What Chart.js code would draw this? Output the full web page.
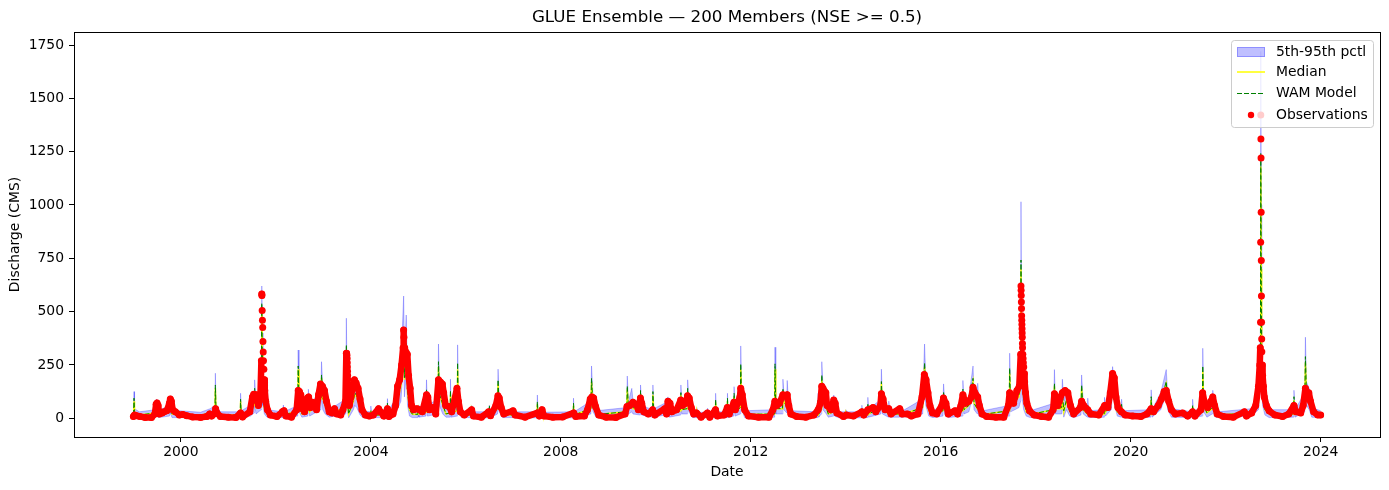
<!DOCTYPE html>
<html>
<head>
<meta charset="utf-8">
<title>GLUE Ensemble</title>
<script src="https://cdn.jsdelivr.net/npm/chart.js@4.4.1/dist/chart.umd.min.js"></script>
<style>
  html, body { margin: 0; padding: 0; background: #fff; }
  canvas { display: block; }
</style>
</head>
<body>
<canvas id="glueChart" width="1389" height="490"></canvas>
<script>
/* ── Axis ticks ── */
const xTicks = [2000, 2004, 2008, 2012, 2016, 2020, 2024];
const yTicks = [0, 250, 500, 750, 1000, 1250, 1500, 1750];

/* ── Ensemble (simulated) series ── */
const simDates = [
  "1999-01-01","1999-01-04","1999-01-06","1999-01-10","1999-02-15","1999-06-20","1999-06-28","1999-07-10","1999-10-05","1999-10-12","1999-10-25","1999-12-20",
  "2000-06-01","2000-08-15","2000-09-20","2000-09-23","2000-09-28","2000-11-01",
  "2001-04-01","2001-04-05","2001-04-10","2001-06-20","2001-07-18","2001-07-22","2001-08-02","2001-09-10","2001-09-15","2001-09-19","2001-09-24","2001-10-05","2001-10-25",
  "2002-02-25","2002-02-28","2002-03-05","2002-06-18","2002-06-22","2002-06-28","2002-07-20","2002-09-04","2002-09-08","2002-09-18","2002-10-15","2002-12-14","2002-12-18","2002-12-28",
  "2003-01-15","2003-02-15","2003-06-23","2003-06-27","2003-07-03","2003-07-15","2003-08-20","2003-08-30","2003-09-15","2003-10-10","2003-11-01","2003-12-28",
  "2004-01-01","2004-01-06","2004-05-05","2004-05-08","2004-05-13","2004-07-15","2004-08-20","2004-09-10","2004-09-16","2004-09-30","2004-10-10","2004-10-25","2004-11-15","2004-12-28",
  "2005-01-01","2005-01-06","2005-03-01","2005-03-05","2005-03-12","2005-06-01","2005-06-05","2005-06-12","2005-07-08","2005-08-01","2005-09-02","2005-09-05","2005-09-10","2005-10-26","2005-10-30","2005-11-05","2005-12-01",
  "2006-02-12","2006-02-15","2006-02-22","2006-06-28","2006-07-01","2006-07-06","2006-09-02","2006-09-06","2006-09-14","2006-10-10","2006-12-28",
  "2007-01-01","2007-01-08","2007-07-02","2007-07-05","2007-07-10","2007-08-07","2007-08-10","2007-08-16",
  "2008-04-05","2008-04-08","2008-04-13","2008-08-20","2008-08-25","2008-09-05","2008-10-01",
  "2009-05-23","2009-05-27","2009-06-05","2009-07-01","2009-07-10","2009-09-03","2009-09-06","2009-09-14","2009-12-07","2009-12-10","2009-12-17",
  "2010-03-10","2010-04-05","2010-04-15","2010-07-10","2010-07-13","2010-07-20","2010-08-30","2010-09-03","2010-09-12","2010-10-10","2010-11-09","2010-11-12","2010-11-18",
  "2011-02-01","2011-02-03","2011-02-08","2011-04-03","2011-04-06","2011-04-11","2011-07-03","2011-07-06","2011-07-11","2011-08-23","2011-08-26","2011-09-03","2011-10-13","2011-10-16","2011-10-23","2011-11-15",
  "2012-07-03","2012-07-06","2012-07-12","2012-09-01","2012-09-05","2012-09-12","2012-10-04","2012-10-08","2012-10-18","2012-11-10",
  "2013-05-31","2013-06-03","2013-06-08","2013-06-28","2013-07-01","2013-07-10","2013-08-05","2013-08-20","2013-09-28","2013-10-01","2013-10-08","2013-11-10","2013-12-30",
  "2014-01-02","2014-01-08","2014-05-02","2014-05-05","2014-05-10","2014-06-17","2014-06-20","2014-06-26","2014-09-28","2014-10-02","2014-10-10","2014-11-25","2014-11-28","2014-12-05",
  "2015-02-17","2015-02-20","2015-03-01","2015-08-15","2015-08-30","2015-09-08","2015-10-01","2015-11-01",
  "2016-01-18","2016-01-23","2016-02-02","2016-03-01","2016-06-16","2016-06-20","2016-06-28","2016-08-05","2016-09-06","2016-09-14","2016-10-09","2016-10-12","2016-10-20","2016-11-20",
  "2017-06-10","2017-06-15","2017-06-22","2017-07-25","2017-08-25","2017-09-07","2017-09-10","2017-09-13","2017-09-18","2017-10-01","2017-10-20","2017-11-20",
  "2018-05-20","2018-05-25","2018-06-01","2018-07-20","2018-07-25","2018-08-05","2018-08-25","2018-09-20","2018-10-20","2018-12-15","2018-12-20",
  "2019-01-01","2019-02-02","2019-02-05","2019-02-12","2019-06-11","2019-06-14","2019-06-22","2019-08-05","2019-08-15","2019-08-25","2019-09-20","2019-10-20","2019-10-23","2019-10-30",
  "2020-06-04","2020-06-07","2020-06-14","2020-08-20","2020-10-01","2020-10-12","2020-11-10",
  "2021-04-19","2021-04-22","2021-04-30","2021-07-05","2021-07-09","2021-07-16","2021-08-10","2021-09-20","2021-09-24","2021-10-05","2021-10-25","2021-10-28","2021-11-05",
  "2022-07-20","2022-09-10","2022-09-25","2022-09-28","2022-10-01","2022-10-05","2022-10-12","2022-10-30","2022-12-01",
  "2023-06-07","2023-06-10","2023-06-18","2023-09-01","2023-09-06","2023-09-14","2023-10-05","2023-10-25",
  "2024-01-01"
];
const simP5 = [
  2,10,20,5,2,5,20,3,10,25,3,3,
  2,5,8,40,8,2,
  2,25,4,10,25,60,20,40,380,150,60,20,5,
  3,15,3,10,120,30,5,10,50,10,20,40,110,40,
  20,5,20,220,40,2,40,60,50,15,3,3,
  15,3,3,30,3,30,80,280,100,200,60,10,3,3,
  15,5,10,80,10,20,150,60,20,5,5,60,5,10,150,20,3,
  3,15,2,2,15,2,20,100,30,3,3,
  10,2,2,40,3,3,10,2,
  2,30,2,20,90,30,3,
  10,80,20,30,20,15,60,15,5,60,5,
  15,30,5,15,60,20,20,80,30,3,3,5,2,
  2,8,2,2,40,3,3,45,3,10,55,10,20,150,40,3,
  5,120,20,20,80,40,25,70,15,3,
  3,30,5,20,100,40,20,5,10,40,10,2,3,
  10,2,2,15,3,3,20,5,20,80,20,5,20,5,
  5,10,3,20,150,60,10,3,
  10,60,15,3,10,70,20,30,110,40,20,60,10,3,
  10,100,30,40,50,80,450,200,100,40,10,3,
  15,70,20,20,60,5,40,10,3,15,80,
  20,5,20,3,5,40,10,40,150,80,10,5,20,3,
  5,50,5,40,110,40,5,
  3,20,3,10,140,30,5,20,60,10,3,15,3,
  10,40,150,1100,500,150,60,15,3,
  5,50,5,30,180,60,40,5,
  3
];
const simP95 = [
  30,60,125,45,30,40,90,35,60,100,40,35,
  28,45,60,211,60,30,
  30,117,35,60,100,180,80,120,620,400,180,80,40,
  30,62,30,60,320,120,40,60,136,50,80,140,265,150,
  110,40,90,469,150,40,140,180,160,80,35,30,
  57,30,30,92,30,100,250,573,300,484,200,80,40,35,
  61,35,60,180,60,90,348,180,120,40,45,183,50,60,344,90,35,
  30,60,30,30,60,30,80,230,100,35,30,
  45,30,30,109,30,30,50,28,
  30,94,30,80,245,110,35,
  50,198,80,140,80,60,156,60,40,156,45,
  70,100,40,60,156,70,80,180,100,35,30,50,28,
  28,47,28,28,117,30,30,117,30,50,148,50,90,339,120,35,
  40,333,80,80,183,120,90,177,70,35,
  30,117,40,80,265,150,100,40,50,109,50,30,30,
  40,30,30,61,30,30,98,40,90,230,90,40,80,35,
  35,60,30,90,348,190,70,35,
  60,161,70,30,60,177,80,100,245,120,80,164,50,35,
  60,305,110,120,160,250,1015,500,300,150,60,35,
  70,228,90,90,183,80,140,60,35,70,203,
  80,40,94,35,40,98,50,130,242,180,60,40,89,35,
  40,133,40,120,228,120,45,
  30,89,30,60,328,100,45,80,131,50,30,60,30,
  45,120,400,1720,1000,400,200,80,40,
  40,131,40,120,380,170,140,50,
  35
];
const simMedian = [
  15,40,80,25,15,25,50,18,35,60,20,18,
  14,25,35,140,35,15,
  15,80,18,35,60,120,50,80,520,300,120,45,20,
  15,40,15,35,230,70,20,35,100,30,50,90,190,90,
  60,20,50,320,80,20,80,110,100,40,18,15,
  35,15,15,60,15,60,150,400,180,330,120,40,20,18,
  40,20,30,120,30,50,240,110,60,20,25,110,25,35,230,45,18,
  15,35,15,15,45,15,45,160,60,18,15,
  30,15,15,65,15,15,30,14,
  15,60,15,45,170,60,18,
  30,135,45,80,45,35,115,35,20,110,25,
  40,60,20,35,110,40,45,125,60,18,15,30,14,
  14,30,14,14,75,15,15,80,15,30,100,30,50,230,70,18,
  20,230,45,45,125,80,50,120,40,18,
  15,70,20,45,180,90,50,20,30,75,30,15,15,
  25,15,15,35,15,15,55,20,50,160,45,20,50,20,
  20,35,15,50,240,120,35,18,
  35,110,40,15,35,120,40,60,170,70,45,100,30,18,
  35,210,60,80,100,150,700,380,200,90,30,18,
  40,150,45,45,100,30,80,30,18,40,140,
  40,20,55,18,20,65,30,80,200,120,30,20,55,18,
  20,85,20,70,160,70,25,
  15,55,15,35,220,60,25,45,90,30,15,35,15,
  25,70,250,1180,700,300,130,40,20,
  20,85,20,70,260,110,85,25,
  18
];
const simWam = [
  15,45,94,25,15,25,55,18,35,65,20,18,
  14,25,35,156,35,15,
  15,89,18,35,65,140,55,85,540,320,130,50,20,
  15,45,15,35,245,75,22,35,110,30,55,95,203,95,
  60,20,50,344,90,20,85,120,105,40,18,15,
  35,15,15,70,15,60,170,427,190,350,130,40,20,18,
  45,20,30,133,30,50,265,115,65,20,25,130,25,35,260,50,18,
  15,40,15,15,60,15,45,180,60,18,15,
  35,15,15,77,15,15,30,14,
  15,70,15,45,187,65,18,
  30,151,50,90,50,35,130,35,20,125,25,
  45,65,20,35,120,40,45,140,60,18,15,35,14,
  14,30,14,14,89,15,15,94,15,30,117,30,50,255,75,18,
  20,255,45,45,140,80,55,130,40,18,
  15,85,20,45,203,95,50,20,30,85,30,15,15,
  25,15,15,45,15,15,65,20,50,172,50,20,55,20,
  20,40,15,50,260,125,35,18,
  35,125,40,15,35,136,40,60,187,70,45,110,30,18,
  35,235,60,85,110,160,742,400,210,95,30,18,
  40,164,45,50,120,35,85,30,18,45,156,
  40,20,60,18,20,73,30,85,211,125,30,20,65,18,
  20,101,20,75,172,75,25,
  15,60,15,35,245,60,25,50,100,30,15,40,15,
  25,75,260,1244,720,310,135,40,20,
  20,101,20,75,289,115,90,25,
  18
];

/* ── Observed discharge ── */
const obsDates = [
  "1999-01-01","1999-01-10","1999-01-25","1999-02-20","1999-04-01","1999-05-20","1999-06-15","1999-06-25","1999-07-02","1999-07-10","1999-07-20","1999-08-10","1999-08-25","1999-09-15","1999-10-05","1999-10-12","1999-10-20","1999-10-30","1999-11-20","1999-12-20",
  "2000-01-15","2000-02-15","2000-04-01","2000-06-01","2000-07-20","2000-08-10","2000-08-25","2000-09-20","2000-09-25","2000-10-05","2000-11-01",
  "2001-01-01","2001-03-01","2001-04-05","2001-04-20","2001-06-15","2001-07-05","2001-07-15","2001-07-25","2001-08-05","2001-08-20","2001-09-05","2001-09-12","2001-09-15","2001-09-16","2001-09-18","2001-09-20","2001-09-22","2001-09-24","2001-09-26","2001-09-28","2001-10-01","2001-10-04","2001-10-08","2001-10-15","2001-10-28","2001-11-20",
  "2002-01-10","2002-02-20","2002-03-05","2002-03-20","2002-05-01","2002-06-10","2002-06-22","2002-07-01","2002-07-12","2002-07-25","2002-08-10","2002-09-01","2002-09-10","2002-09-25","2002-10-10","2002-10-25","2002-11-10","2002-11-25","2002-12-10","2002-12-25",
  "2003-01-10","2003-01-25","2003-02-15","2003-03-10","2003-03-28","2003-04-15","2003-05-15","2003-06-01","2003-06-20","2003-06-27","2003-07-01","2003-07-03","2003-07-04","2003-07-05","2003-07-06","2003-07-07","2003-07-08","2003-07-09","2003-07-10","2003-07-12","2003-07-20","2003-08-01","2003-08-15","2003-08-28","2003-09-10","2003-09-25","2003-10-10","2003-10-25","2003-11-20","2003-12-20",
  "2004-01-20","2004-03-01","2004-03-15","2004-04-10","2004-05-08","2004-05-20","2004-06-20","2004-07-10","2004-07-25","2004-08-10","2004-08-25","2004-09-06","2004-09-10","2004-09-12","2004-09-14","2004-09-20","2004-09-28","2004-10-08","2004-10-18","2004-10-30","2004-11-10","2004-11-25","2004-12-20",
  "2005-01-10","2005-02-01","2005-03-05","2005-03-15","2005-03-28","2005-04-25","2005-05-15","2005-06-05","2005-06-20","2005-07-05","2005-07-15","2005-07-30","2005-08-25","2005-09-15","2005-10-25","2005-11-05","2005-11-20","2005-12-20",
  "2006-02-15","2006-03-01","2006-05-01","2006-06-25","2006-07-10","2006-08-20","2006-09-05","2006-09-15","2006-09-30","2006-10-20","2006-12-30",
  "2007-01-15","2007-04-01","2007-07-05","2007-07-20","2007-08-10","2007-08-25","2007-11-01",
  "2008-01-15","2008-04-10","2008-04-25","2008-07-01","2008-07-25","2008-08-15","2008-08-28","2008-09-10","2008-09-25","2008-10-20","2008-12-15",
  "2009-03-01","2009-05-10","2009-05-25","2009-06-15","2009-07-10","2009-08-01","2009-08-20","2009-09-05","2009-09-15","2009-10-01","2009-11-05","2009-12-08","2009-12-25",
  "2010-03-10","2010-03-25","2010-04-05","2010-04-20","2010-05-05","2010-06-10","2010-07-12","2010-07-25","2010-08-20","2010-09-02","2010-09-15","2010-10-01","2010-10-20","2010-11-10","2010-12-15",
  "2011-02-02","2011-02-20","2011-04-05","2011-04-20","2011-06-10","2011-07-05","2011-07-20","2011-08-25","2011-09-05","2011-10-10","2011-10-16","2011-10-28","2011-11-15","2011-12-15",
  "2012-03-01","2012-05-20","2012-06-20","2012-07-05","2012-07-20","2012-08-10","2012-09-05","2012-09-20","2012-10-08","2012-10-20","2012-11-05","2012-12-20",
  "2013-03-01","2013-05-01","2013-06-03","2013-06-20","2013-07-01","2013-07-10","2013-08-01","2013-08-10","2013-09-10","2013-10-01","2013-10-12","2013-10-25","2013-12-15",
  "2014-01-05","2014-03-01","2014-05-05","2014-05-20","2014-06-20","2014-07-30","2014-08-20","2014-09-25","2014-10-02","2014-10-15","2014-10-30","2014-11-28","2014-12-15",
  "2015-02-20","2015-03-10","2015-04-20","2015-05-20","2015-07-10","2015-08-10","2015-08-28","2015-09-10","2015-09-25","2015-10-10","2015-10-30","2015-12-01",
  "2016-01-10","2016-01-22","2016-02-10","2016-02-28","2016-04-20","2016-05-10","2016-06-05","2016-06-20","2016-07-10","2016-08-05","2016-08-25","2016-09-06","2016-09-20","2016-10-12","2016-10-25","2016-11-15","2016-12-20",
  "2017-03-01","2017-05-01","2017-06-05","2017-06-15","2017-06-28","2017-07-15","2017-07-25","2017-08-10","2017-08-28","2017-09-08","2017-09-10","2017-09-11","2017-09-12","2017-09-13","2017-09-14","2017-09-15","2017-09-16","2017-09-17","2017-09-18","2017-09-19","2017-09-20","2017-09-21","2017-09-22","2017-09-24","2017-09-26","2017-09-28","2017-10-01","2017-10-04","2017-10-08","2017-10-15","2017-10-25","2017-11-15","2017-12-20",
  "2018-02-15","2018-04-10","2018-05-15","2018-05-25","2018-06-10","2018-06-20","2018-07-01","2018-07-25","2018-08-15","2018-09-05","2018-09-25","2018-10-20","2018-12-10","2018-12-20",
  "2019-01-05","2019-02-05","2019-03-01","2019-05-01","2019-06-15","2019-07-10","2019-07-28","2019-08-15","2019-08-28","2019-09-10","2019-09-25","2019-10-22","2019-11-20",
  "2020-01-15","2020-03-20","2020-05-05","2020-06-07","2020-06-25","2020-08-01","2020-08-25","2020-09-15","2020-10-01","2020-10-20","2020-11-10","2020-12-10",
  "2021-02-05","2021-03-15","2021-04-22","2021-05-10","2021-06-25","2021-07-08","2021-07-20","2021-08-15","2021-09-10","2021-09-24","2021-10-08","2021-10-28","2021-12-15",
  "2022-03-01","2022-05-25","2022-06-10","2022-07-20","2022-08-20","2022-09-10","2022-09-20","2022-09-24","2022-09-26","2022-09-27","2022-09-28","2022-09-29","2022-09-30","2022-10-01","2022-10-02","2022-10-03","2022-10-04","2022-10-05","2022-10-06","2022-10-08","2022-10-12","2022-10-18","2022-10-25","2022-11-10","2022-12-01",
  "2023-01-15","2023-03-15","2023-05-01","2023-06-10","2023-06-25","2023-08-01","2023-08-20","2023-09-06","2023-09-20","2023-10-02","2023-10-15","2023-11-08","2023-12-10",
  "2024-01-01"
];
const obsFlow = [
  8,15,12,8,4,3,20,65,72,60,20,25,30,35,70,90,80,40,30,15,
  18,12,6,4,8,20,10,22,45,25,8,
  5,4,25,6,30,100,112,95,110,60,110,270,583,575,505,460,425,360,310,270,230,180,130,80,40,15,
  8,30,35,10,5,40,130,125,110,45,30,95,100,50,75,70,40,110,160,150,
  130,80,30,25,45,20,15,40,80,305,295,280,260,240,220,200,180,160,140,110,60,100,150,180,165,140,90,40,15,10,
  15,45,30,10,45,8,20,60,150,180,250,330,414,380,330,280,310,300,200,140,60,40,45,
  40,30,110,100,40,50,20,180,170,160,120,60,55,30,140,80,30,15,
  40,10,5,30,12,60,105,95,50,20,35,
  15,5,25,10,40,10,5,
  6,25,8,10,40,90,100,95,55,15,5,
  4,20,55,60,75,65,40,95,70,30,20,40,15,
  45,20,80,70,30,40,85,60,70,105,95,50,20,25,5,
  25,5,40,10,15,50,20,75,40,100,140,110,40,10,
  5,5,40,80,60,70,110,105,110,60,20,8,
  5,15,40,70,150,140,120,60,40,85,70,25,8,
  15,10,30,15,40,50,30,60,115,90,40,45,20,
  45,20,20,10,20,100,205,180,120,60,25,20,
  60,95,70,20,35,20,60,110,70,80,100,145,120,100,60,20,8,
  5,5,60,120,100,70,100,130,150,300,620,600,575,545,515,480,460,440,420,400,380,350,330,300,280,260,240,210,170,120,70,35,15,
  8,5,40,115,100,60,80,120,130,120,60,20,50,80,
  60,40,20,15,60,50,120,210,190,100,50,30,15,
  10,8,20,45,30,60,90,125,130,80,40,20,
  25,10,30,10,40,120,80,50,80,100,60,20,8,
  5,30,10,25,60,150,250,330,450,825,1422,1309,1220,966,740,573,450,372,312,250,200,150,100,60,35,
  15,8,20,60,30,25,60,140,120,120,80,30,15,
  15
];

/* ── Helpers ── */
function toYear(d) {
  const [y, m, day] = d.split("-").map(Number);
  const start = Date.UTC(y, 0, 1);
  const end = Date.UTC(y + 1, 0, 1);
  return y + (Date.UTC(y, m - 1, day) - start) / (end - start);
}
const pts = (dates, vals) => dates.map((d, i) => ({ x: toYear(d), y: vals[i] }));

const BAND = "rgba(0,0,255,0.25)";
const RED = "#ff0000";
const FONT = "'DejaVu Sans', sans-serif";

/* ── Frame, title and legend (matplotlib-like) ── */
const glueDecor = {
  id: "glueDecor",
  afterDatasetsDraw(chart) {
    const { ctx, chartArea: a } = chart;
    ctx.save();

    ctx.strokeStyle = "#000";
    ctx.lineWidth = 1;
    ctx.strokeRect(Math.round(a.left) + 0.5, Math.round(a.top) + 0.5,
      Math.round(a.right - a.left), Math.round(a.bottom - a.top));

    ctx.fillStyle = "#000";
    ctx.font = `16.7px ${FONT}`;
    ctx.textAlign = "center";
    ctx.textBaseline = "middle";
    ctx.fillText("GLUE Ensemble — 200 Members (NSE >= 0.5)", (a.left + a.right) / 2, 18);

    // legend box
    const bx = a.right - 149, by = a.top + 8, bw = 142, bh = 87;
    ctx.beginPath();
    ctx.roundRect(bx + 0.5, by + 0.5, bw, bh, 3);
    ctx.fillStyle = "rgba(255,255,255,0.8)";
    ctx.fill();
    ctx.strokeStyle = "#cccccc";
    ctx.stroke();

    const hx = bx + 6, hw = 28;
    const rows = [by + 12, by + 32, by + 53, by + 75];

    ctx.fillStyle = BAND;
    ctx.strokeStyle = BAND;
    ctx.fillRect(hx, rows[0] - 5, hw, 10);
    ctx.strokeRect(hx + 0.5, rows[0] - 4.5, hw - 1, 9);

    ctx.lineWidth = 1.5;
    ctx.strokeStyle = "#ffff00";
    ctx.beginPath(); ctx.moveTo(hx, rows[1]); ctx.lineTo(hx + hw, rows[1]); ctx.stroke();

    ctx.lineWidth = 1;
    ctx.strokeStyle = "#008000";
    ctx.setLineDash([5, 2]);
    ctx.beginPath(); ctx.moveTo(hx, rows[2] + 0.5); ctx.lineTo(hx + hw, rows[2] + 0.5); ctx.stroke();
    ctx.setLineDash([]);

    ctx.fillStyle = RED;
    ctx.beginPath(); ctx.arc(hx + 14, rows[3], 3.2, 0, Math.PI * 2); ctx.fill();

    ctx.fillStyle = "#000";
    ctx.font = `13.9px ${FONT}`;
    ctx.textAlign = "left";
    ["5th-95th pctl", "Median", "WAM Model", "Observations"].forEach((t, i) => {
      ctx.fillText(t, bx + 45, rows[i]);
    });
    ctx.restore();
  }
};

Chart.defaults.font.family = FONT;
Chart.defaults.font.size = 13.9;
Chart.defaults.color = "#000";

new Chart(document.getElementById("glueChart"), {
  type: "line",
  data: {
    datasets: [
      {
        label: "Observations",
        data: pts(obsDates, obsFlow),
        borderColor: RED,
        borderWidth: 6.5,
        borderJoinStyle: "round",
        borderCapStyle: "round",
        pointRadius: 3.5,
        pointBorderWidth: 0,
        pointBackgroundColor: RED,
        segment: {
          // daily steps on flood peaks show as separate dots
          borderColor: (c) =>
            Math.abs(c.p1.x - c.p0.x) < 0.45 && Math.abs(c.p1.y - c.p0.y) > 3 ? "rgba(0,0,0,0)" : RED,
        },
      },
      {
        label: "WAM Model",
        data: pts(simDates, simWam),
        borderColor: "#008000",
        borderWidth: 1,
        borderDash: [5, 2],
        pointRadius: 0,
      },
      {
        label: "Median",
        data: pts(simDates, simMedian),
        borderColor: "#ffff00",
        borderWidth: 1.5,
        pointRadius: 0,
      },
      {
        label: "5th-95th pctl",
        data: pts(simDates, simP95),
        borderColor: BAND,
        backgroundColor: BAND,
        borderWidth: 1,
        pointRadius: 0,
        fill: "+1",
      },
      {
        label: "p5",
        data: pts(simDates, simP5),
        borderColor: BAND,
        borderWidth: 1,
        pointRadius: 0,
      },
    ],
  },
  options: {
    responsive: false,
    animation: false,
    devicePixelRatio: 1,
    events: [],
    layout: { padding: { top: 32, right: 9, left: 0, bottom: 0 } },
    plugins: { legend: { display: false }, tooltip: { enabled: false } },
    elements: { line: { tension: 0 } },
    scales: {
      x: {
        type: "linear",
        min: 1997.75,
        max: 2025.25,
        afterBuildTicks: (s) => { s.ticks = xTicks.map((v) => ({ value: v })); },
        afterFit: (s) => { s.height = 53; },
        ticks: { callback: (v) => String(v), padding: 2, maxRotation: 0, autoSkip: false, color: "#000" },
        grid: { display: true, drawOnChartArea: false, drawTicks: true, tickLength: 5, color: "#000" },
        border: { display: true, color: "#000" },
        title: { display: true, text: "Date", color: "#000", padding: { top: 0, bottom: 9 } },
      },
      y: {
        min: -88,
        max: 1811,
        afterBuildTicks: (s) => { s.ticks = yTicks.map((v) => ({ value: v })); },
        afterFit: (s) => { s.width = 74; },
        ticks: { callback: (v) => String(v), padding: 5, color: "#000" },
        grid: { display: true, drawOnChartArea: false, drawTicks: true, tickLength: 5, color: "#000" },
        border: { display: true, color: "#000" },
        title: { display: true, text: "Discharge (CMS)", color: "#000", padding: { top: 7 } },
      },
    },
  },
  plugins: [glueDecor],
});
</script>
</body>
</html>
